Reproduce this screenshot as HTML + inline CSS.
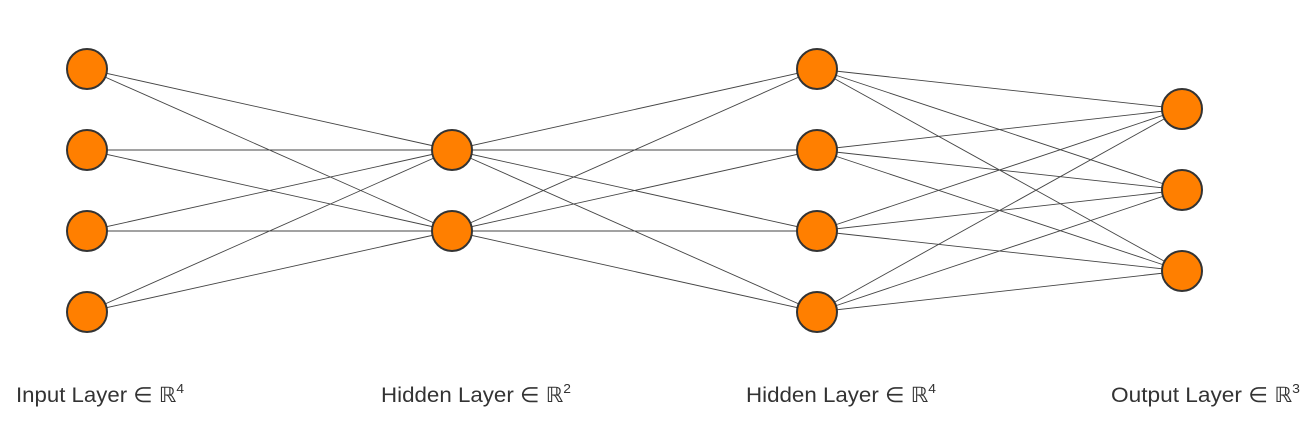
<!DOCTYPE html>
<html><head><style>
html,body{margin:0;padding:0;background:#fff;}
svg{display:block;}
text{font-family:"Liberation Sans",sans-serif;font-size:21px;fill:#333;}
</style></head><body>
<svg width="1309" height="425" viewBox="0 0 1309 425" xmlns="http://www.w3.org/2000/svg">
<g stroke="#444" stroke-width="0.9">
<!-- L1 -> L2 -->
<line x1="87" y1="69" x2="452" y2="150"/><line x1="87" y1="69" x2="452" y2="231"/>
<line x1="87" y1="150" x2="452" y2="150"/><line x1="87" y1="150" x2="452" y2="231"/>
<line x1="87" y1="231" x2="452" y2="150"/><line x1="87" y1="231" x2="452" y2="231"/>
<line x1="87" y1="312" x2="452" y2="150"/><line x1="87" y1="312" x2="452" y2="231"/>
<!-- L2 -> L3 -->
<line x1="452" y1="150" x2="817" y2="69"/><line x1="452" y1="150" x2="817" y2="150"/>
<line x1="452" y1="150" x2="817" y2="231"/><line x1="452" y1="150" x2="817" y2="312"/>
<line x1="452" y1="231" x2="817" y2="69"/><line x1="452" y1="231" x2="817" y2="150"/>
<line x1="452" y1="231" x2="817" y2="231"/><line x1="452" y1="231" x2="817" y2="312"/>
<!-- L3 -> L4 -->
<line x1="817" y1="69" x2="1182" y2="109"/><line x1="817" y1="69" x2="1182" y2="190"/><line x1="817" y1="69" x2="1182" y2="271"/>
<line x1="817" y1="150" x2="1182" y2="109"/><line x1="817" y1="150" x2="1182" y2="190"/><line x1="817" y1="150" x2="1182" y2="271"/>
<line x1="817" y1="231" x2="1182" y2="109"/><line x1="817" y1="231" x2="1182" y2="190"/><line x1="817" y1="231" x2="1182" y2="271"/>
<line x1="817" y1="312" x2="1182" y2="109"/><line x1="817" y1="312" x2="1182" y2="190"/><line x1="817" y1="312" x2="1182" y2="271"/>
</g>
<g fill="#ff7f00" stroke="#333" stroke-width="2">
<circle cx="87" cy="69" r="20"/><circle cx="87" cy="150" r="20"/><circle cx="87" cy="231" r="20"/><circle cx="87" cy="312" r="20"/>
<circle cx="452" cy="150" r="20"/><circle cx="452" cy="231" r="20"/>
<circle cx="817" cy="69" r="20"/><circle cx="817" cy="150" r="20"/><circle cx="817" cy="231" r="20"/><circle cx="817" cy="312" r="20"/>
<circle cx="1182" cy="109" r="20"/><circle cx="1182" cy="190" r="20"/><circle cx="1182" cy="271" r="20"/>
</g>
<text x="16" y="402" textLength="168" lengthAdjust="spacingAndGlyphs">Input Layer ∈ ℝ<tspan dy="-9" font-size="13">4</tspan></text>
<text x="381" y="402" textLength="190" lengthAdjust="spacingAndGlyphs">Hidden Layer ∈ ℝ<tspan dy="-9" font-size="13">2</tspan></text>
<text x="746" y="402" textLength="190" lengthAdjust="spacingAndGlyphs">Hidden Layer ∈ ℝ<tspan dy="-9" font-size="13">4</tspan></text>
<text x="1111" y="402" textLength="189" lengthAdjust="spacingAndGlyphs">Output Layer ∈ ℝ<tspan dy="-9" font-size="13">3</tspan></text>
</svg>
</body></html>
